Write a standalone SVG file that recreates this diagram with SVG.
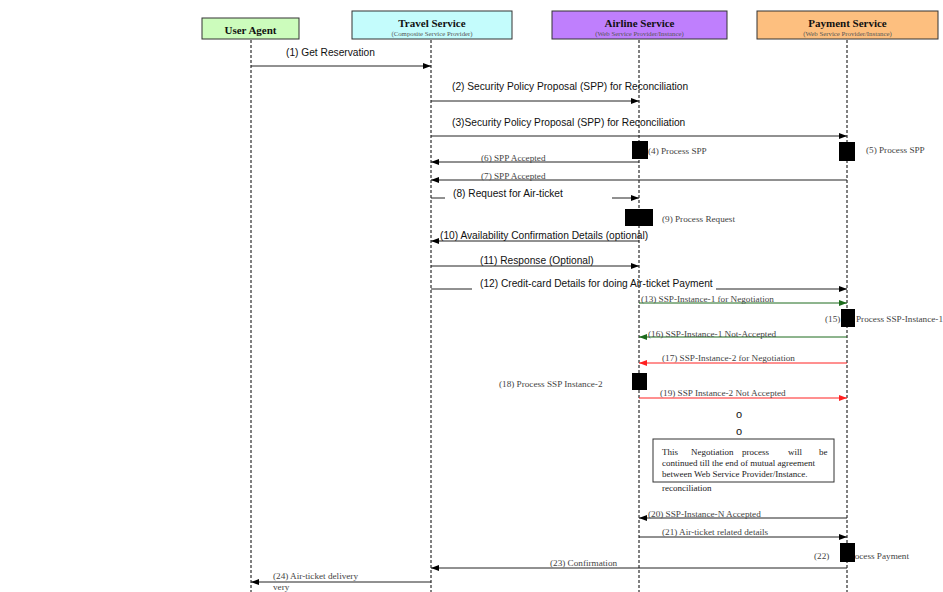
<svg xmlns="http://www.w3.org/2000/svg" width="943" height="592" viewBox="0 0 943 592">
<defs>
<marker id="ah" markerWidth="8" markerHeight="6" refX="8" refY="3" orient="auto" markerUnits="userSpaceOnUse"><path d="M0,0 L8,3 L0,6 z" fill="#000"/></marker>
<marker id="ahg" markerWidth="8" markerHeight="6" refX="8" refY="3" orient="auto" markerUnits="userSpaceOnUse"><path d="M0,0 L8,3 L0,6 z" fill="#1c6b1c"/></marker>
<marker id="ahr" markerWidth="8" markerHeight="6" refX="8" refY="3" orient="auto" markerUnits="userSpaceOnUse"><path d="M0,0 L8,3 L0,6 z" fill="#ff2020"/></marker>
<style>
.hd{stroke:#333;stroke-width:1}
.ttl{font-family:"Liberation Serif",serif;font-weight:bold;font-size:11px;fill:#111;text-anchor:middle}
.sub{font-family:"Liberation Serif",serif;font-size:6.8px;fill:#555;text-anchor:middle}
.life{stroke:#000;stroke-width:1;stroke-dasharray:3,2;fill:none}
.msg{stroke:#222;stroke-width:1;fill:none;marker-end:url(#ah)}
.seg{stroke:#222;stroke-width:1;fill:none}
.gmsg{stroke:#1c6b1c;stroke-width:1;fill:none;marker-end:url(#ahg)}
.rmsg{stroke:#ff2020;stroke-width:1;fill:none;marker-end:url(#ahr)}
.sl{font-family:"Liberation Sans",Arial,sans-serif;font-size:10.2px;fill:#111}
.rl{font-family:"Liberation Serif",serif;font-size:9.2px;fill:#444}
.act{fill:#000}
.note{fill:#fff;stroke:#333;stroke-width:1}
.nt{font-family:"Liberation Serif",serif;font-size:9px;fill:#222}
</style>
</defs>
<rect width="943" height="592" fill="#fff"/>

<g id="user-agent">
<rect class="hd" x="202" y="18" width="97" height="21" fill="#ccfcbc"/>
<text class="ttl" x="250.5" y="34">User Agent</text>
</g>
<g id="travel-service">
<rect class="hd" x="352" y="11" width="160" height="28" fill="#c4fcfc"/>
<text class="ttl" x="432" y="27">Travel Service</text>
<text class="sub" x="432" y="36">(Composite Service Provider)</text>
</g>
<g id="airline-service">
<rect class="hd" x="552" y="11" width="175" height="28" fill="#bf7ffd"/>
<text class="ttl" x="639.5" y="27">Airline Service</text>
<text class="sub" x="639.5" y="36">(Web Service Provider/Instance)</text>
</g>
<g id="payment-service">
<rect class="hd" x="757" y="11" width="181" height="28" fill="#fdbf7f"/>
<text class="ttl" x="847.5" y="27">Payment Service</text>
<text class="sub" x="847.5" y="36">(Web Service Provider/Instance)</text>
</g>

<g id="lifelines">
<line class="life" x1="251" y1="40" x2="251" y2="592"/>
<line class="life" x1="431" y1="40" x2="431" y2="592"/>
<line class="life" x1="639" y1="40" x2="639" y2="592"/>
<line class="life" x1="847" y1="40" x2="847" y2="592"/>
</g>

<g id="connectors">
<line class="msg" x1="251" y1="66" x2="431" y2="66"/>
<line class="msg" x1="431" y1="101" x2="639" y2="101"/>
<line class="msg" x1="431" y1="136" x2="847" y2="136"/>
<line class="msg" x1="639" y1="162" x2="431" y2="162"/>
<line class="msg" x1="847" y1="180" x2="431" y2="180"/>
<line class="seg" x1="431" y1="198" x2="445" y2="198"/>
<line class="msg" x1="612" y1="198" x2="639" y2="198"/>
<line class="msg" x1="639" y1="241" x2="431" y2="241"/>
<line class="msg" x1="431" y1="266" x2="639" y2="266"/>
<line class="seg" x1="431" y1="289" x2="472" y2="289"/>
<line class="msg" x1="716" y1="289" x2="847" y2="289"/>
<line class="gmsg" x1="639" y1="303" x2="847" y2="303"/>
<line class="gmsg" x1="847" y1="337" x2="639" y2="337"/>
<line class="rmsg" x1="847" y1="363" x2="639" y2="363"/>
<line class="rmsg" x1="639" y1="398" x2="847" y2="398"/>
<line class="msg" x1="847" y1="518" x2="639" y2="518"/>
<line class="msg" x1="639" y1="537" x2="847" y2="537"/>
<line class="msg" x1="847" y1="568" x2="431" y2="568"/>
<line class="msg" x1="431" y1="582" x2="251" y2="582"/>
</g>

<g id="labels">
<text class="sl" x="286" y="56">(1) Get Reservation</text>
<text class="sl" x="452" y="90">(2) Security Policy Proposal (SPP) for Reconciliation</text>
<text class="sl" x="452" y="126">(3)Security Policy Proposal (SPP) for Reconciliation</text>
<text class="rl" x="481" y="161">(6) SPP Accepted</text>
<text class="rl" x="481" y="179">(7) SPP Accepted</text>
<text class="sl" x="453" y="197">(8) Request for Air-ticket</text>
<text class="sl" x="440" y="239">(10) Availability Confirmation Details (optional)</text>
<text class="sl" x="480" y="264">(11) Response (Optional)</text>
<text class="sl" x="480" y="287">(12) Credit-card Details for doing Air-ticket Payment</text>
<text class="rl" x="641" y="302">(13) SSP-Instance-1 for Negotiation</text>
<text class="rl" x="648" y="337">(16) SSP-Instance-1 Not-Accepted</text>
<text class="rl" x="662" y="361">(17) SSP-Instance-2 for Negotiation</text>
<text class="rl" x="660" y="396">(19) SSP Instance-2 Not Accepted</text>
<text class="rl" x="648" y="517">(20) SSP-Instance-N Accepted</text>
<text class="rl" x="662" y="535">(21) Air-ticket related details</text>
<text class="rl" x="550" y="566">(23) Confirmation</text>
<text class="rl" x="273" y="579">(24) Air-ticket delivery</text>
<text class="rl" x="273" y="590">very</text>
</g>

<g id="process-4">
<rect class="act" x="632" y="141" width="16" height="18"/>
<text class="rl" x="648" y="154">(4) Process SPP</text>
</g>
<g id="process-5">
<rect class="act" x="839" y="142" width="16" height="19"/>
<text class="rl" x="866" y="153">(5) Process SPP</text>
</g>
<g id="process-9">
<rect class="act" x="625" y="209" width="28" height="17"/>
<text class="rl" x="662" y="222">(9) Process Request</text>
</g>
<g id="process-15">
<text class="rl" x="825" y="322">(15)</text>
<text class="rl" x="856" y="322">Process SSP-Instance-1</text>
<rect class="act" x="841" y="309" width="14" height="18"/>
</g>
<g id="process-18">
<rect class="act" x="632" y="373" width="15" height="17"/>
<text class="rl" x="499" y="387">(18) Process SSP Instance-2</text>
</g>
<g id="ellipsis">
<text class="sl" x="736" y="418" style="font-size:11px">o</text>
<text class="sl" x="736" y="435" style="font-size:11px">o</text>
</g>
<g id="note">
<rect class="note" x="653" y="439" width="181" height="43"/>
<text class="nt" y="455"><tspan x="662">This</tspan><tspan x="691">Negotiation</tspan><tspan x="742">process</tspan><tspan x="788">will</tspan><tspan x="819">be</tspan></text>
<text class="nt" x="662" y="466">continued till the end of mutual agreement</text>
<text class="nt" x="662" y="477">between Web Service Provider/Instance.</text>
<text class="nt" x="662" y="491">reconciliation</text>
</g>
<g id="process-22">
<text class="rl" x="814" y="559">(22)</text>
<text class="rl" x="846.5" y="559">Process Payment</text>
<rect class="act" x="840" y="543" width="15" height="19"/>
</g>
</svg>
